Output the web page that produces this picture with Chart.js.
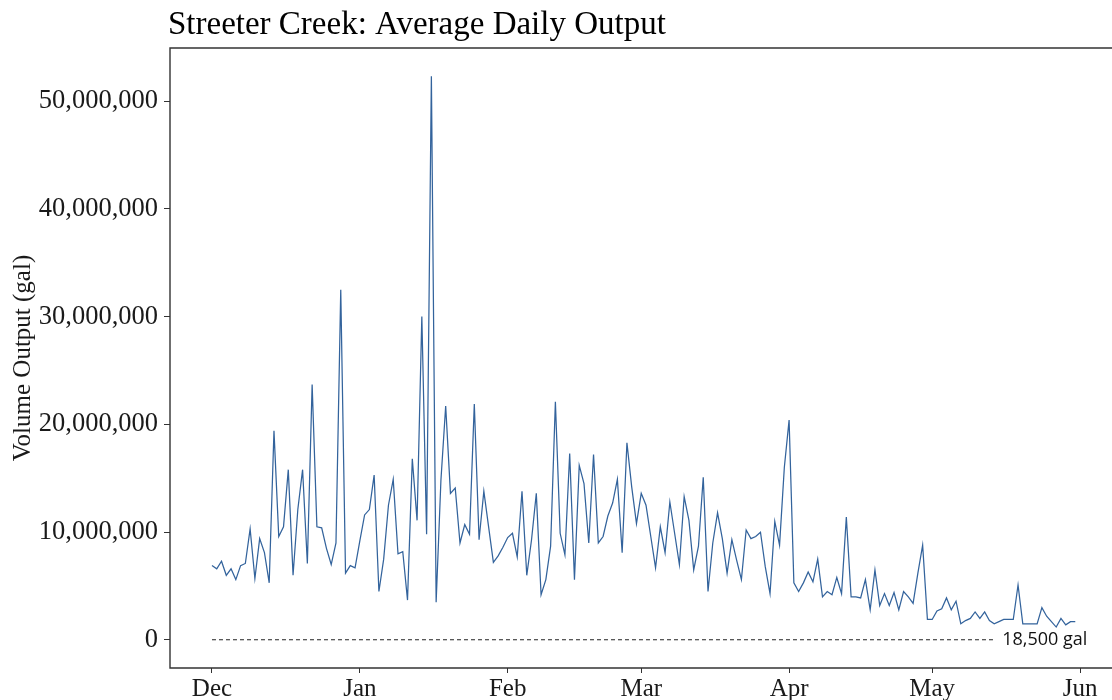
<!DOCTYPE html>
<html>
<head>
<meta charset="utf-8">
<script src="https://cdn.jsdelivr.net/npm/chart.js@4.4.1/dist/chart.umd.min.js"></script>
<style>
  html, body { margin: 0; padding: 0; background: #fff; overflow: hidden; }
  #wrap { width: 1112px; height: 700px; position: relative; }
</style>
</head>
<body>
<div id="wrap"><canvas id="myChart"></canvas></div>
<script>
const chartTitle = 'Streeter Creek: Average Daily Output';
const yAxisTitle = 'Volume Output (gal)';

// x axis: day number counted from Dec 1
const monthLabels = ['Dec', 'Jan', 'Feb', 'Mar', 'Apr', 'May', 'Jun'];
const monthStartDays = [0, 31, 62, 90, 121, 151, 182];
const yTickValues = [0, 10000000, 20000000, 30000000, 40000000, 50000000];

// daily output, millions of gallons
const decOutput = [6.9, 6.6, 7.3, 6.0, 6.6, 5.6, 6.9, 7.1, 10.3, 5.7, 9.4, 8.1, 5.3, 19.4, 9.6, 10.5,
  15.8, 6.0, 12.1, 15.8, 7.1, 23.7, 10.5, 10.4, 8.5, 7.0, 9.0, 32.5, 6.2, 6.9, 6.7];
const janOutput = [9.2, 11.6, 12.1, 15.3, 4.5, 7.5, 12.5, 14.9, 8.0, 8.2, 3.7, 16.8, 11.1, 30.0, 9.8, 52.3,
  3.5, 14.8, 21.7, 13.6, 14.1, 9.0, 10.7, 9.8, 21.9, 9.3, 13.8, 10.5, 7.2, 7.8, 8.6];
const febOutput = [9.5, 9.9, 7.7, 13.8, 6.0, 9.3, 13.6, 4.2, 5.6, 8.7, 22.1, 9.9, 7.9, 17.3, 5.6, 16.2,
  14.5, 9.0, 17.2, 9.0, 9.6, 11.5, 12.7, 14.9, 8.1, 18.3, 14.2, 10.8];
const marOutput = [13.6, 12.5, 9.6, 6.7, 10.5, 8.1, 12.8, 9.9, 7.0, 13.3, 11.1, 6.5, 8.7, 15.1, 4.5, 9.0,
  11.8, 9.4, 6.2, 9.3, 7.4, 5.6, 10.2, 9.4, 9.6, 10.0, 6.8, 4.3, 11.0, 8.8, 16.0];
const aprOutput = [20.4, 5.3, 4.5, 5.3, 6.3, 5.4, 7.5, 4.0, 4.5, 4.2, 5.8, 4.3, 11.4, 4.0, 4.0, 3.9,
  5.6, 2.8, 6.5, 3.2, 4.3, 3.2, 4.4, 2.8, 4.5, 4.0, 3.4, 6.2, 8.8, 1.9];
const mayOutput = [1.9, 2.7, 2.9, 3.9, 2.8, 3.6, 1.5, 1.8, 2.0, 2.6, 2.0, 2.6, 1.8, 1.5, 1.7, 1.9,
  1.9, 1.9, 5.1, 1.5, 1.5, 1.5, 1.5, 3.0, 2.2, 1.7, 1.2, 2.0, 1.4, 1.7, 1.7];

// reference line
const refValue = 18500;
const refLabel = '18,500 gal';
const refStartDay = 0;
const refEndDay = 164;

const dailyOutput = [...decOutput, ...janOutput, ...febOutput, ...marOutput, ...aprOutput, ...mayOutput];
const outputPoints = dailyOutput.map((v, i) => ({ x: i, y: v * 1000000 }));
const refPoints = [{ x: refStartDay, y: refValue }, { x: refEndDay, y: refValue }];

const serif = '"Liberation Serif", "Times New Roman", serif';

// panel border (no right side, it runs off the picture), title and ref label
const frameAndText = {
    id: 'frameAndText',
    afterDraw(chart) {
        const { ctx, chartArea: a, scales } = chart;
        ctx.save();
        ctx.strokeStyle = '#333';
        ctx.lineWidth = 1.4;
        ctx.beginPath();
        ctx.moveTo(a.right + 2, a.top);
        ctx.lineTo(a.left, a.top);
        ctx.lineTo(a.left, a.bottom);
        ctx.lineTo(a.right + 2, a.bottom);
        ctx.stroke();

        ctx.fillStyle = '#111';
        ctx.font = '18px "Open Sans", sans-serif';
        ctx.textBaseline = 'middle';
        ctx.fillText(refLabel, scales.x.getPixelForValue(refEndDay) + 8, scales.y.getPixelForValue(refValue));

        ctx.fillStyle = '#000';
        ctx.font = '33px ' + serif;
        ctx.textBaseline = 'alphabetic';
        ctx.fillText(chartTitle, a.left - 2, 34);
        ctx.restore();
    }
};

const ctx = document.getElementById('myChart').getContext('2d');
new Chart(ctx, {
    type: 'line',
    data: {
        datasets: [{
            data: outputPoints,
            borderColor: '#33639c',
            borderWidth: 1.25,
            pointRadius: 0,
            tension: 0
        }, {
            data: refPoints,
            borderColor: '#222',
            borderWidth: 1.1,
            borderDash: [4, 3],
            pointRadius: 0
        }]
    },
    options: {
        responsive: true,
        maintainAspectRatio: false,
        animation: false,
        layout: { padding: { top: 48, left: 0, right: 0, bottom: 0 } },
        plugins: {
            legend: { display: false },
            tooltip: { enabled: false },
            title: { display: false }
        },
        scales: {
            x: {
                type: 'linear',
                min: -8.8,
                max: 188.7,
                border: { display: false },
                grid: { drawOnChartArea: false, drawTicks: true, tickLength: 5, color: '#333' },
                afterBuildTicks: s => { s.ticks = monthStartDays.map(v => ({ value: v })); },
                afterFit: s => { s.height = 32; },
                ticks: {
                    autoSkip: false,
                    maxRotation: 0,
                    padding: 1,
                    color: '#1a1a1a',
                    font: { family: serif, size: 25 },
                    callback: v => monthLabels[monthStartDays.indexOf(v)]
                }
            },
            y: {
                min: -2600000,
                max: 54920000,
                border: { display: false },
                grid: { drawOnChartArea: false, drawTicks: true, tickLength: 6, color: '#333' },
                afterBuildTicks: s => { s.ticks = yTickValues.map(v => ({ value: v })); },
                afterFit: s => { s.width = 170; },
                ticks: {
                    padding: 6,
                    color: '#1a1a1a',
                    font: { family: serif, size: 26.5 },
                    callback: v => v.toLocaleString('en-US')
                },
                title: {
                    display: true,
                    text: yAxisTitle,
                    color: '#1a1a1a',
                    font: { family: serif, size: 25 },
                    padding: { top: 8, bottom: 0 }
                }
            }
        }
    },
    plugins: [frameAndText]
});
</script>
</body>
</html>
